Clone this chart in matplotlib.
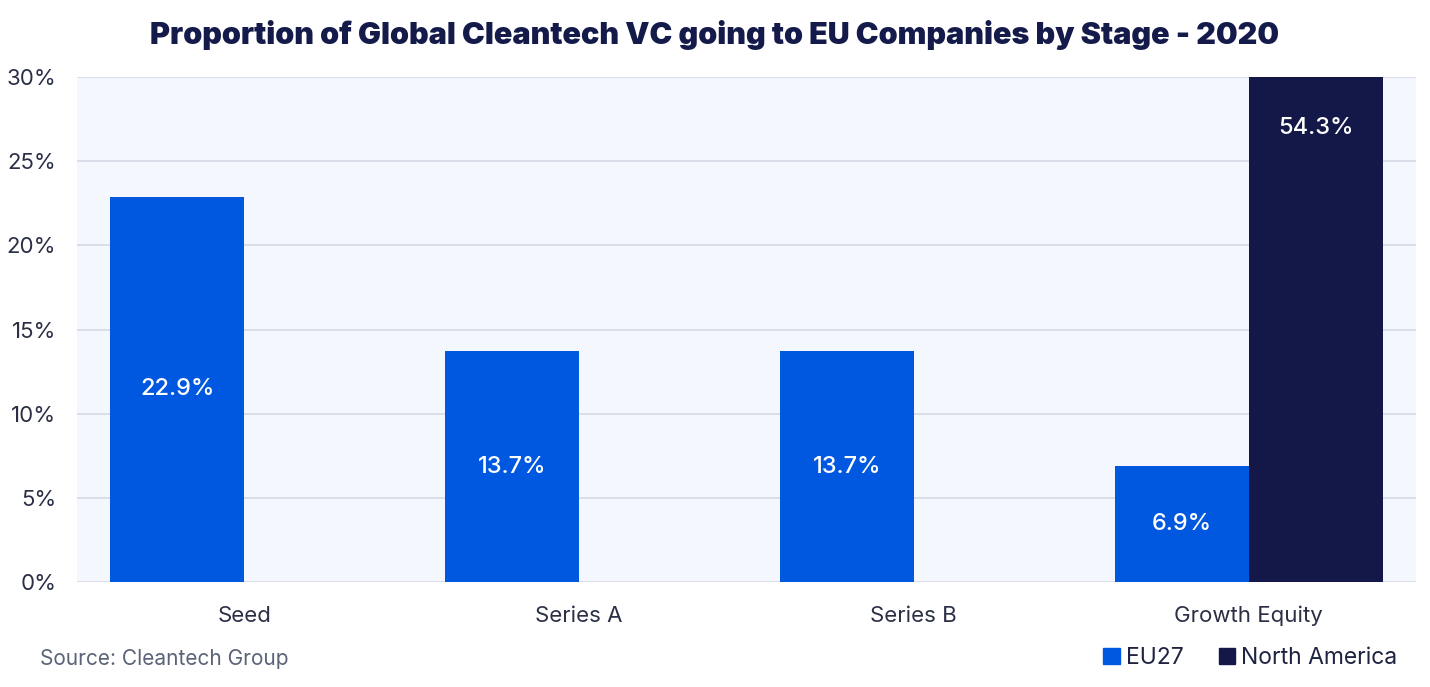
import matplotlib.pyplot as plt
import numpy as np
from matplotlib.patches import Patch

# data
stages = ["Seed", "Series A", "Series B", "Growth Equity"]
eu27 = [22.9, 13.7, 13.7, 6.9]
north_america = [np.nan, np.nan, np.nan, 54.3]
y_ticks = [0, 5, 10, 15, 20, 25, 30]

eu_color = "#0057e0"
na_color = "#131848"
plt.rcParams["font.family"] = ["Inter", "DejaVu Sans"]

fig = plt.figure(figsize=(14.3, 6.87), dpi=100)
ax = fig.add_axes([77 / 1430, 1 - 582 / 687, 1339 / 1430, 505 / 687])
ax.set_facecolor("#f4f7fd")

x = np.arange(len(stages))
w = 0.40
bars_eu = ax.bar(x - w / 2, eu27, w, color=eu_color, zorder=3)
bars_na = ax.bar(x + w / 2, north_america, w, color=na_color, zorder=3)

ymax = 30
ax.set_ylim(0, ymax)
ax.set_xlim(-0.5, len(stages) - 0.5)

# value labels inside the bars
for b, v in zip(bars_eu, eu27):
    ax.text(b.get_x() + b.get_width() / 2, v / 2, f"{v:.1f}%", ha="center", va="center",
            color="white", fontsize=17, fontweight="medium", zorder=4)
for b, v in zip(bars_na, north_america):
    if np.isnan(v):
        continue
    # bar runs past the top of the axis, label sits just under the top
    ypos = min(v, ymax) - 3.0
    ax.text(b.get_x() + b.get_width() / 2, ypos, f"{v:.1f}%", ha="center", va="center",
            color="white", fontsize=17, fontweight="medium", zorder=4)

ax.set_yticks(y_ticks)
ax.set_yticklabels([f"{t}%" for t in y_ticks], fontsize=16, color="#2a2f45")
ax.set_xticks(x)
ax.set_xticklabels(stages, fontsize=16, color="#2a2f45")
ax.tick_params(axis="both", length=0)
ax.tick_params(axis="y", pad=15)
ax.tick_params(axis="x", pad=17)
ax.grid(axis="y", color="#d6dae6", linewidth=1.2, zorder=0)
for s in ax.spines.values():
    s.set_visible(False)

fig.text(0.5, 1 - 35 / 687, "Proportion of Global Cleantech VC going to EU Companies by Stage - 2020",
         ha="center", va="center", fontsize=22, fontweight="black", color="#141a4a")
fig.text(40 / 1430, 1 - 659 / 687, "Source: Cleantech Group", ha="left", va="center",
         fontsize=15, color="#5b6378")

handles = [Patch(color=eu_color, label="EU27"), Patch(color=na_color, label="North America")]
fig.legend(handles=handles, loc="center right", bbox_to_anchor=(1409 / 1430, 1 - 658 / 687),
           ncol=2, frameon=False, fontsize=16.5, handlelength=0.7, handleheight=0.7,
           handletextpad=0.3, columnspacing=1.5, labelcolor="#1e2340", borderpad=0)

plt.savefig("out.png", dpi=100)
